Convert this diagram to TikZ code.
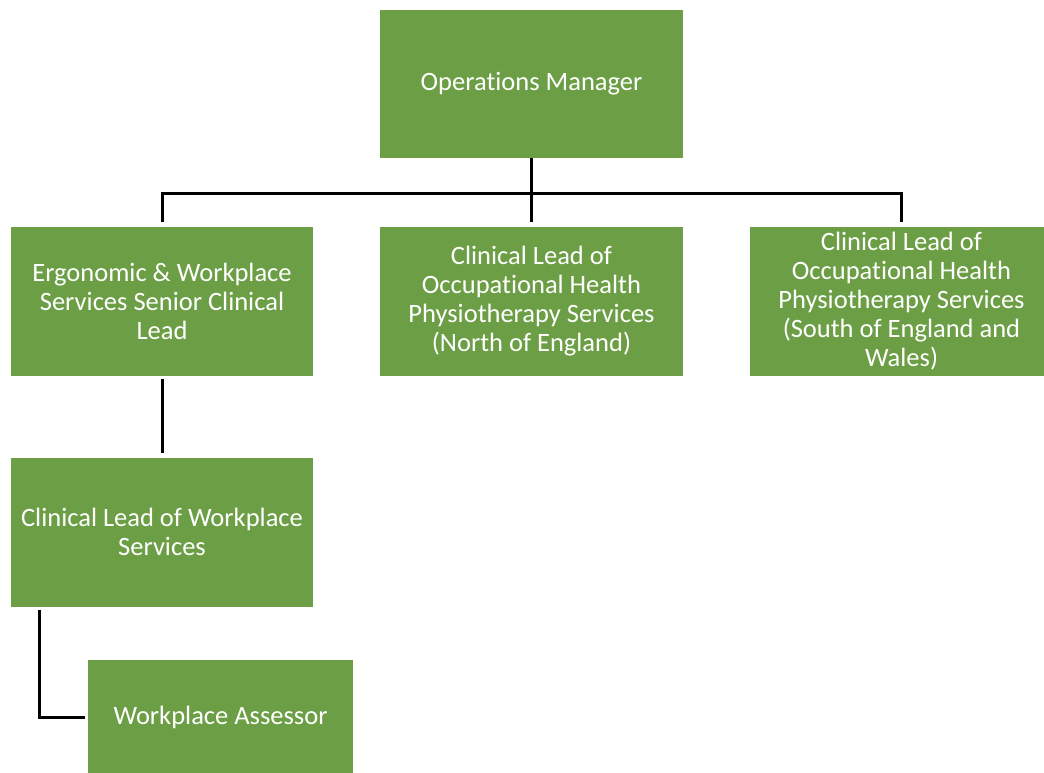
\documentclass[tikz,border=0pt]{standalone}
\usepackage{fontspec}
\setmainfont{Carlito}[Ligatures=NoCommon]
\definecolor{boxgreen}{RGB}{108,159,69}
\tikzset{
  orgbox/.style={rectangle, fill=boxgreen, text=white, align=center, inner sep=0pt,
    font=\fontsize{26.5}{29}\selectfont},
  conn/.style={line width=3pt, black, line join=miter}
}
\begin{document}
\begin{tikzpicture}[x=1pt,y=-1pt]
\useasboundingbox (0,0) rectangle (1044,772);
\begin{scope}
\clip (0,0) rectangle (1044,772);
\node[orgbox, minimum width=303pt, minimum height=148pt] (om) at (531.5,84) {\raisebox{-3pt}{Operations Manager}};
\node[orgbox, minimum width=302pt, minimum height=149pt] (erg) at (162,301) {Ergonomic \& Workplace\\Services Senior Clinical\\Lead};
\node[orgbox, minimum width=303pt, minimum height=149pt] (north) at (531.5,301) {Clinical Lead of\\Occupational Health\\Physiotherapy Services\\(North of England)};
\node[orgbox, minimum width=303pt, minimum height=149pt] (south) at (901.5,301) {Clinical Lead of\\Occupational Health\\Physiotherapy Services\\(South of England and\\Wales)};
\node[orgbox, minimum width=302pt, minimum height=149pt] (cw) at (162,532) {Clinical Lead of Workplace\\Services};
\node[orgbox, minimum width=265pt, minimum height=114pt] (wa) at (220.5,717) {\raisebox{-2pt}{Workplace Assessor}};
\coordinate (bus) at (531.5,193);
\draw[conn] (om.south) -- ([yshift=4pt]north.north);
\draw[conn] ([yshift=4pt]erg.north) |- (bus) -| ([yshift=4pt]south.north);
\draw[conn] ([yshift=-3pt]erg.south) -- ([yshift=4pt]cw.north);
\draw[conn] ([shift={(29pt,-3pt)}]cw.south west) |- ([xshift=-3pt]wa.west);
\end{scope}
\end{tikzpicture}
\end{document}
